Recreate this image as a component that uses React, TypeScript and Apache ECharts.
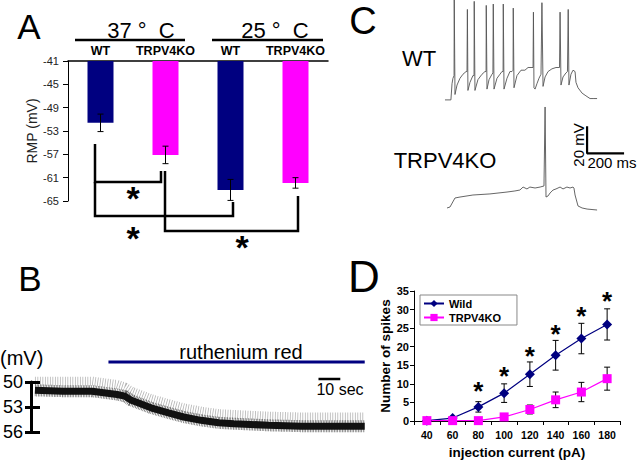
import React, { useEffect, useRef } from "react";
import * as echarts from "echarts";

const FONT = "'Liberation Sans', Arial, Helvetica, sans-serif";
const NAVY = "#000080";
const MAGENTA = "#FF00FF";

// ---------- Panel A : resting membrane potential ----------
const rmpGroups = ["WT", "TRPV4KO", "WT", "TRPV4KO"];
const rmpMean = [-51.6, -57.1, -63.1, -61.9];
const rmpErr = [1.5, 1.5, 1.8, 0.9];
const rmpColors = [NAVY, MAGENTA, NAVY, MAGENTA];

// ---------- Panel C : firing traces (ms, mV) ----------
const wtTrace: number[][] = [
  [27, -70], [59, -70], [65, -58], [70, -54], [76, -52], [77, 4], [81, -66], [92, -59], [108, -54], [124, -51], [141, -49], [146, -49],
  [148, -3], [151, -63], [162, -57], [178, -52], [184, -52],
  [185, 3], [189, -63], [205, -55], [227, -51], [243, -49], [249, -49],
  [250, 0], [254, -62], [265, -55], [281, -51], [286, -50],
  [288, 1], [292, -62], [308, -54], [324, -51], [335, -49], [341, -49],
  [342, 1], [346, -62], [362, -54], [378, -49], [389, -49], [395, -48],
  [396, -2], [400, -61], [416, -52], [438, -48], [459, -48], [476, -46], [492, -46], [503, -46],
  [505, -5], [508, -61], [514, -62], [524, -58], [535, -54], [546, -51], [549, -51],
  [551, 2], [557, -60], [568, -53], [584, -49], [605, -47], [627, -46], [638, -46], [646, -46],
  [649, -5], [654, -59], [665, -53], [681, -50], [689, -49], [692, -49],
  [693, -3], [697, -59], [708, -51], [719, -48], [730, -49],
  [735, -57], [746, -61], [768, -65], [789, -67], [811, -69], [832, -69], [849, -69],
];
const koTrace: number[][] = [
  [38, -68.5], [54, -67.8], [81, -61.1], [108, -60.4], [178, -58.9], [270, -58.1], [362, -56.7], [405, -55.9],
  [432, -55.2], [449, -53], [470, -54.4], [486, -53], [514, -53.7], [541, -53], [562, -52.2],
  [568, 6.3], [573, -60.4], [584, -59.6], [595, -57.4], [611, -55.2], [627, -54.4], [649, -53],
  [665, -54.4], [686, -53], [703, -53.7], [719, -53], [724, -53.7], [730, -58.9], [746, -67],
  [768, -68.5], [795, -69.3], [849, -70],
];
const scaleBarC: number[][] = [[795, -8], [795, -28], [995, -28]]; // 20 mV, 200 ms

// ---------- Panel B : ruthenium red recording (s, -mV) ----------
const rrTime = [1.8, 14.5, 28, 39.5, 43, 46, 55, 63, 70, 78, 86, 93, 109, 124, 139, 153];
const rrMean = [51.0, 51.1, 51.1, 51.5, 51.7, 52.2, 53.1, 53.7, 54.2, 54.6, 54.9, 55.0, 55.2, 55.3, 55.3, 55.3];
const rrUpper = [49.9, 49.9, 49.9, 50.3, 50.6, 51.1, 52.0, 52.6, 53.1, 53.5, 53.8, 53.9, 54.1, 54.2, 54.2, 54.2];
const rrApplication: number[][] = [[35.5, 47.6], [153, 47.6]];
const tenSecBar: number[][] = [[131.8, 49.64], [141.8, 49.64]];

// ---------- Panel D : spikes vs current ----------
const currents = ["40", "60", "80", "100", "120", "140", "160", "180"];
const wildSpikes = [0.1, 0.8, 3.8, 7.5, 12.6, 17.7, 22.2, 26.0];
const wildErr = [0, 0.3, 1.4, 2.5, 3.3, 4.0, 4.1, 4.2];
const koSpikes = [0.1, 0.1, 0.1, 1.1, 3.1, 5.7, 7.8, 11.4];
const koErr = [0, 0, 0, 0.3, 1.2, 2.1, 2.6, 3.1];
const sigMarkY = [null, null, 8, 12, 17.4, 23.3, 28.2, 32.2];

const errRender = (cap: number) => (params: any, api: any) => {
  const x = api.value(0);
  const m = api.value(1);
  const e = api.value(2);
  if (!e) return null;
  const top = api.coord([x, m + e]);
  const bot = api.coord([x, m - e]);
  const st = { stroke: "#000", lineWidth: 1 };
  return {
    type: "group",
    children: [
      { type: "line", shape: { x1: top[0], y1: top[1], x2: bot[0], y2: bot[1] }, style: st },
      { type: "line", shape: { x1: top[0] - cap, y1: top[1], x2: top[0] + cap, y2: top[1] }, style: st },
      { type: "line", shape: { x1: bot[0] - cap, y1: bot[1], x2: bot[0] + cap, y2: bot[1] }, style: st },
    ],
  };
};

const txt = (text: string, x: number, y: number, fontSize: number, extra: any = {}) => ({
  type: "text",
  x,
  y,
  rotation: extra.rotation || 0,
  style: {
    text,
    fontSize,
    fontFamily: FONT,
    fontWeight: extra.bold ? "bold" : "normal",
    fill: "#000",
    align: extra.align || "center",
    verticalAlign: "middle",
  },
});
const poly = (points: number[][], w = 2.5) => ({
  type: "polyline",
  shape: { points },
  style: { stroke: "#000", lineWidth: w, fill: null },
});

export default function App() {
  const ref = useRef<HTMLDivElement>(null);
  useEffect(() => {
    if (!ref.current) return;
    const chart = echarts.init(ref.current, undefined, { renderer: "svg" });
    const blackAxis = { lineStyle: { color: "#000", width: 1 } };
    const option: any = {
      animation: false,
      textStyle: { fontFamily: FONT },
      grid: [
        { left: 68, top: 61, width: 260, height: 140 },
        { left: 440, top: 0, width: 185, height: 108 },
        { left: 440, top: 102, width: 185, height: 116.1 },
        { left: 28, top: 382, width: 340, height: 50 },
        { left: 414, top: 291, width: 206, height: 130 },
      ],
      xAxis: [
        {
          type: "category", gridIndex: 0, data: rmpGroups, position: "top",
          axisLine: { lineStyle: { color: "#000", width: 1.5 } }, axisTick: { show: false },
          axisLabel: { fontWeight: "bold", fontSize: 12.5, color: "#000", margin: 4, interval: 0 },
        },
        { type: "value", gridIndex: 1, min: 0, max: 1000, show: false },
        { type: "value", gridIndex: 2, min: 0, max: 1000, show: false },
        { type: "value", gridIndex: 3, min: 0, max: 154.5, show: false },
        {
          type: "category", gridIndex: 4, data: currents, boundaryGap: true,
          axisLine: blackAxis, axisTick: { show: true, length: 4, lineStyle: { color: "#000" } },
          axisLabel: { fontWeight: "bold", fontSize: 10.5, color: "#000", margin: 8, interval: 0 },
          name: "injection current (pA)", nameLocation: "middle", nameGap: 24,
          nameTextStyle: { fontWeight: "bold", fontSize: 13.5, color: "#000" },
        },
      ],
      yAxis: [
        {
          type: "value", gridIndex: 0, min: -65, max: -41, interval: 4,
          axisLine: { show: true, lineStyle: { color: "#000", width: 1 } },
          axisTick: { show: true, length: 5, lineStyle: { color: "#000" } },
          axisLabel: { fontSize: 11, color: "#222", margin: 9 }, splitLine: { show: false },
          name: "RMP (mV)", nameLocation: "middle", nameGap: 22, nameRotate: 90,
          nameTextStyle: { fontSize: 14, color: "#222" },
        },
        { type: "value", gridIndex: 1, min: -76, max: 4, show: false },
        { type: "value", gridIndex: 2, min: -76, max: 10, show: false },
        {
          type: "value", gridIndex: 3, min: 50, max: 56, interval: 3, inverse: true, position: "left", offset: 0,
          axisLine: { show: true, lineStyle: { color: "#000", width: 3 } },
          axisTick: { show: true, length: 6, lineStyle: { color: "#000", width: 3 } },
          axisLabel: { fontSize: 18, color: "#000", margin: 8 }, splitLine: { show: false },
        },
        {
          type: "value", gridIndex: 4, min: 0, max: 35, interval: 5,
          axisLine: { show: true, lineStyle: { color: "#000", width: 1 } },
          axisTick: { show: true, length: 4, lineStyle: { color: "#000" } },
          axisLabel: { fontWeight: "bold", fontSize: 11, color: "#000", margin: 5 }, splitLine: { show: false },
          name: "Number of spikes", nameLocation: "middle", nameGap: 20, nameRotate: 90,
          nameTextStyle: { fontWeight: "bold", fontSize: 13.5, color: "#000" },
        },
        {
          type: "value", gridIndex: 3, min: 50, max: 56, interval: 3, inverse: true, position: "left", offset: 0,
          axisLine: { show: false },
          axisTick: { show: true, inside: true, length: 9, lineStyle: { color: "#000", width: 3 } },
          axisLabel: { show: false }, splitLine: { show: false },
        },
      ],
      legend: {
        data: ["Wild", "TRPV4KO"], orient: "vertical", left: 420, top: 295,
        itemWidth: 20, itemHeight: 9, itemGap: 3,
        textStyle: { fontWeight: "bold", fontSize: 11, color: "#000", fontFamily: FONT },
        borderColor: "#888", borderWidth: 1, padding: [3, 16, 2, 3], backgroundColor: "#fff",
      },
      series: [
        {
          type: "bar", xAxisIndex: 0, yAxisIndex: 0, barWidth: 26, clip: true,
          data: rmpMean.map((v, i) => ({ value: v, itemStyle: { color: rmpColors[i] } })),
        },
        {
          type: "custom", xAxisIndex: 0, yAxisIndex: 0, z: 5, renderItem: errRender(3),
          data: rmpMean.map((v, i) => [i, v, rmpErr[i]]),
        },
        {
          type: "line", xAxisIndex: 1, yAxisIndex: 1, data: wtTrace, showSymbol: false, clip: false,
          lineStyle: { color: "#555", width: 0.9 },
        },
        {
          type: "line", xAxisIndex: 2, yAxisIndex: 2, data: koTrace, showSymbol: false, clip: false,
          lineStyle: { color: "#555", width: 0.9 },
        },
        {
          type: "line", xAxisIndex: 2, yAxisIndex: 2, data: scaleBarC, showSymbol: false, clip: false,
          lineStyle: { color: "#000", width: 2.2 },
        },
        {
          type: "line", xAxisIndex: 3, yAxisIndex: 3, data: rrTime.map((t, i) => [t, rrUpper[i]]),
          showSymbol: false, clip: false, lineStyle: { color: "rgba(0,0,0,0.3)", width: 9, type: [0.8, 1.7] },
        },
        {
          type: "line", xAxisIndex: 3, yAxisIndex: 3, data: rrTime.map((t, i) => [t, rrMean[i]]),
          showSymbol: false, clip: false, lineStyle: { color: "rgba(0,0,0,0.6)", width: 12, type: [0.7, 0.9] },
        },
        {
          type: "line", xAxisIndex: 3, yAxisIndex: 3, data: rrTime.map((t, i) => [t, rrMean[i]]),
          showSymbol: false, clip: false, lineStyle: { color: "#111", width: 7 },
        },
        {
          type: "line", xAxisIndex: 3, yAxisIndex: 3, data: rrApplication, showSymbol: false, clip: false,
          lineStyle: { color: NAVY, width: 3 },
        },
        {
          type: "line", xAxisIndex: 3, yAxisIndex: 3, data: tenSecBar, showSymbol: false, clip: false,
          lineStyle: { color: "#000", width: 2.5 },
        },
        {
          type: "custom", xAxisIndex: 4, yAxisIndex: 4, z: 3, renderItem: errRender(3),
          data: wildSpikes.map((v, i) => [i, v, wildErr[i]]),
        },
        {
          type: "custom", xAxisIndex: 4, yAxisIndex: 4, z: 3, renderItem: errRender(3),
          data: koSpikes.map((v, i) => [i, v, koErr[i]]),
        },
        {
          name: "Wild", type: "line", xAxisIndex: 4, yAxisIndex: 4, data: wildSpikes, z: 4,
          symbol: "diamond", symbolSize: 10, showSymbol: true,
          lineStyle: { color: NAVY, width: 1.2 }, itemStyle: { color: NAVY },
        },
        {
          name: "TRPV4KO", type: "line", xAxisIndex: 4, yAxisIndex: 4, data: koSpikes, z: 4,
          symbol: "rect", symbolSize: 9, showSymbol: true,
          lineStyle: { color: MAGENTA, width: 1.2 }, itemStyle: { color: MAGENTA },
        },
        {
          type: "scatter", xAxisIndex: 4, yAxisIndex: 4, data: sigMarkY, symbolSize: 0,
          itemStyle: { opacity: 1 },
          label: {
            show: true, position: "inside", formatter: "*", fontSize: 26, fontWeight: "bold",
            color: "#000", opacity: 1, fontFamily: FONT,
          },
        },
      ],
      graphic: [
        txt("A", 29, 26, 35),
        txt("37 °  C", 141, 30, 22),
        txt("25 °  C", 275, 30, 22),
        { type: "line", shape: { x1: 75, y1: 40, x2: 185, y2: 40 }, style: { stroke: "#000", lineWidth: 2.5 } },
        { type: "line", shape: { x1: 212, y1: 40, x2: 323, y2: 40 }, style: { stroke: "#000", lineWidth: 2.5 } },
        poly([[95, 144], [95, 182], [161, 182], [161, 171]]),
        poly([[95, 182], [95, 216], [233, 216], [233, 202]]),
        poly([[165, 171], [165, 231], [298, 231], [298, 196]]),
        txt("*", 133, 198, 34, { bold: true }),
        txt("*", 133, 238, 34, { bold: true }),
        txt("*", 242, 247, 34, { bold: true }),
        txt("B", 30, 278, 35),
        txt("(mV)", 0, 358, 20, { align: "left" }),
        txt("ruthenium red", 241, 352, 20),
        txt("10 sec", 340, 389, 16),
        txt("C", 363, 21, 38),
        txt("WT", 419, 58, 22),
        txt("TRPV4KO", 445, 160, 22),
        txt("20 mV", 578, 145, 15, { rotation: Math.PI / 2 }),
        txt("200 ms", 612, 162, 15),
        txt("D", 364, 276, 44),
      ],
    };
    chart.setOption(option);
    return () => chart.dispose();
  }, []);
  return (
    <div
      ref={ref}
      style={{ position: "absolute", left: 0, top: 0, width: 640, height: 462, background: "#fff" }}
    />
  );
}
